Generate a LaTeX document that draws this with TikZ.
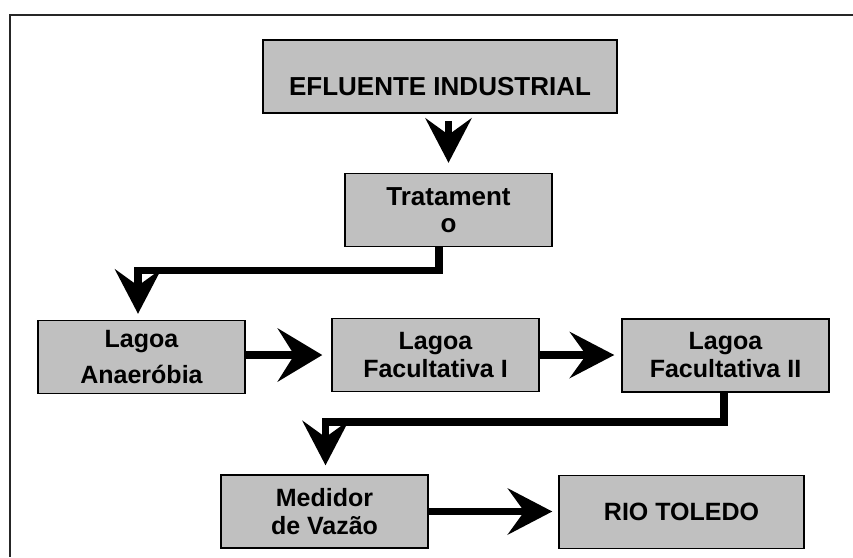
\documentclass[tikz,border=0pt]{standalone}
\usepackage{fontspec}
\setmainfont{Liberation Sans}
\usetikzlibrary{arrows.meta}
\definecolor{boxgray}{RGB}{192,192,192}
\begin{document}
\begin{tikzpicture}[x=1pt,y=-1pt,
  box/.style={draw=black, line width=1.5pt, fill=boxgray, minimum width=207pt,
    minimum height=73pt, inner sep=0pt, align=center,
    font=\bfseries\fontsize{25}{28}\selectfont},
  conn/.style={line width=7.5pt,
    -{Stealth[length=45pt,width=47pt,inset=17pt,sep=5pt,line width=0pt]}},
  frameline/.style={line width=2pt, black!85}
]
\useasboundingbox (0,0) rectangle (853,557);
\coordinate (fr1) at (853,14.5);
\coordinate (fr2) at (9.5,14.5);
\coordinate (fr3) at (9.5,557);
\draw[frameline] (fr1) -- (fr2) -- (fr3);

\node[box, minimum width=354pt, text height=37pt, text depth=0pt,
  font=\bfseries\fontsize{26}{28}\selectfont] (efl) at (440,76.5) {EFLUENTE INDUSTRIAL};
\node[box, font=\bfseries\fontsize{26}{27}\selectfont] (trat) at (448.5,210) {Tratament\\o};
\node[box, font=\bfseries\fontsize{25}{36}\selectfont] (anaer) at (141.5,357) {Lagoa\\Anaeróbia};
\node[box] (fac1) at (435.5,355) {Lagoa\\Facultativa I};
\node[box] (fac2) at (725.5,355.5) {Lagoa\\Facultativa II};
\node[box] (med) at (324.5,511.5) {Medidor\\de Vazão};
\node[box, minimum width=245pt] (rio) at (681.5,512) {RIO TOLEDO};

\draw[conn, shorten <=7pt, shorten >=5pt] (efl.south -| trat.north) -- (trat.north);
\draw[conn, shorten >=1pt] ([xshift=-9.5pt]trat.south) -- ++(0,23) -| ([xshift=-3.5pt]anaer.north);
\draw[conn, shorten >=4pt, -{Stealth[length=45pt,width=54pt,inset=17pt,sep=5pt,line width=0pt]}]
  (fac1.west -| anaer.east) -- (fac1.west);
\draw[conn, shorten >=2pt] (fac1.east) -- (fac1.east -| fac2.west);
\draw[conn, shorten >=4pt] ([xshift=-1.5pt]fac2.south) -- ++(0,29) -| ([xshift=1pt]med.north);
\draw[conn, shorten >=1pt] (med.east) -- (med.east -| rio.west);
\end{tikzpicture}
\end{document}
